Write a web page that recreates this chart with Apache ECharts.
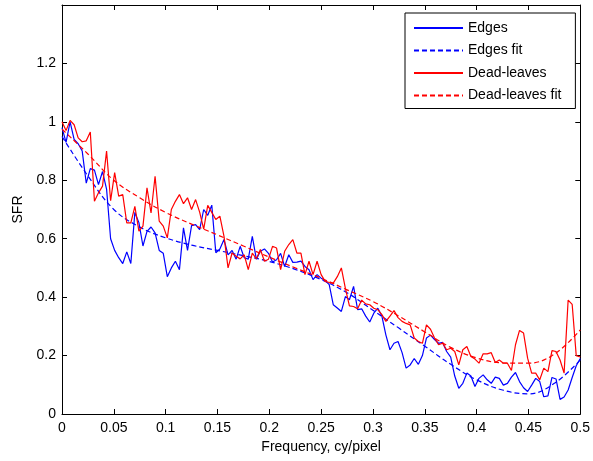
<!DOCTYPE html>
<html>
<head>
<meta charset="utf-8">
<script src="https://cdn.jsdelivr.net/npm/echarts@6/dist/echarts.min.js"></script>
<style>
  html, body { margin: 0; padding: 0; background: #ffffff; }
  #chart { width: 593px; height: 461px; }
</style>
</head>
<body>
<div id="chart"></div>
<script>
// Spatial frequency samples (cy/pixel)
const freq = [
  0, 0.0039, 0.0078, 0.0117, 0.0156, 0.0195, 0.0234, 0.0273, 0.0313, 0.0352,
  0.0391, 0.0430, 0.0469, 0.0508, 0.0547, 0.0586, 0.0625, 0.0664, 0.0703, 0.0742,
  0.0781, 0.0820, 0.0859, 0.0898, 0.0938, 0.0977, 0.1016, 0.1055, 0.1094, 0.1133,
  0.1172, 0.1211, 0.125, 0.1289, 0.1328, 0.1367, 0.1406, 0.1445, 0.1484, 0.1523,
  0.1563, 0.1602, 0.1641, 0.1680, 0.1719, 0.1758, 0.1797, 0.1836, 0.1875, 0.1914,
  0.1953, 0.1992, 0.2031, 0.2070, 0.2109, 0.2148, 0.2188, 0.2227, 0.2266, 0.2305,
  0.2344, 0.2383, 0.2422, 0.2461, 0.25, 0.2539, 0.2578, 0.2617, 0.2656, 0.2695,
  0.2734, 0.2773, 0.2813, 0.2852, 0.2891, 0.2930, 0.2969, 0.3008, 0.3047, 0.3086,
  0.3125, 0.3164, 0.3203, 0.3242, 0.3281, 0.3320, 0.3359, 0.3398, 0.3438, 0.3477,
  0.3516, 0.3555, 0.3594, 0.3633, 0.3672, 0.3711, 0.375, 0.3789, 0.3828, 0.3867,
  0.3906, 0.3945, 0.3984, 0.4023, 0.4063, 0.4102, 0.4141, 0.4180, 0.4219, 0.4258,
  0.4297, 0.4336, 0.4375, 0.4414, 0.4453, 0.4492, 0.4531, 0.4570, 0.4609, 0.4648,
  0.4688, 0.4727, 0.4766, 0.4805, 0.4844, 0.4883, 0.4922, 0.4961, 0.5
];

// Measured SFR from slanted edges
const edges = [
  0.98, 0.93, 1.0, 0.94, 0.925, 0.90, 0.79, 0.84, 0.835, 0.785,
  0.83, 0.77, 0.60, 0.56, 0.535, 0.515, 0.555, 0.515, 0.69, 0.655,
  0.575, 0.625, 0.64, 0.62, 0.56, 0.55, 0.47, 0.50, 0.523, 0.494,
  0.637, 0.56, 0.645, 0.648, 0.631, 0.70, 0.68, 0.715, 0.552, 0.565,
  0.597, 0.545, 0.56, 0.53, 0.574, 0.535, 0.53, 0.608, 0.53, 0.557,
  0.565, 0.55, 0.52, 0.528, 0.55, 0.505, 0.545, 0.519, 0.52, 0.523,
  0.505, 0.494, 0.46, 0.477, 0.465, 0.457, 0.443, 0.374, 0.363, 0.351,
  0.402, 0.391, 0.437, 0.357, 0.36, 0.335, 0.315, 0.345, 0.362, 0.335,
  0.27, 0.22, 0.242, 0.248, 0.21, 0.157, 0.168, 0.19, 0.17, 0.20,
  0.26, 0.27, 0.255, 0.242, 0.245, 0.214, 0.195, 0.13, 0.088, 0.105,
  0.14, 0.13, 0.094, 0.122, 0.134, 0.117, 0.105, 0.126, 0.122, 0.099,
  0.105, 0.126, 0.142, 0.111, 0.09, 0.077, 0.099, 0.122, 0.111, 0.059,
  0.062, 0.125, 0.12, 0.05, 0.058, 0.082, 0.125, 0.165, 0.19
];

// Measured SFR from the dead-leaves target
const deadLeaves = [
  1.0, 0.97, 1.005, 0.99, 0.945, 0.932, 0.935, 0.965, 0.728, 0.757,
  0.78, 0.90, 0.73, 0.826, 0.746, 0.751, 0.654, 0.654, 0.711, 0.626,
  0.643, 0.774, 0.688, 0.814, 0.66, 0.643, 0.603, 0.70, 0.728, 0.751,
  0.72, 0.74, 0.70, 0.734, 0.691, 0.633, 0.714, 0.69, 0.666, 0.677,
  0.608, 0.50, 0.551, 0.54, 0.531, 0.545, 0.494, 0.551, 0.531, 0.563,
  0.523, 0.53, 0.574, 0.568, 0.494, 0.557, 0.58, 0.597, 0.551, 0.551,
  0.477, 0.523, 0.477, 0.523, 0.477, 0.454, 0.45, 0.448, 0.47, 0.50,
  0.43, 0.37, 0.368, 0.36, 0.39, 0.377, 0.374, 0.362, 0.357, 0.34,
  0.317, 0.335, 0.354, 0.33, 0.317, 0.31, 0.305, 0.26, 0.248, 0.242,
  0.305, 0.29, 0.26, 0.237, 0.242, 0.22, 0.225, 0.214, 0.168, 0.22,
  0.231, 0.197, 0.188, 0.174, 0.206, 0.206, 0.21, 0.176, 0.185, 0.174,
  0.174, 0.149, 0.237, 0.286, 0.277, 0.191, 0.14, 0.14, 0.117, 0.157,
  0.145, 0.217, 0.214, 0.185, 0.14, 0.39, 0.375, 0.2, 0.195
];

// Fitted model curves, sampled coarsely
const fitFreq = [
  0, 0.025, 0.05, 0.075, 0.1, 0.125, 0.15, 0.175, 0.2, 0.225,
  0.25, 0.275, 0.3, 0.325, 0.35, 0.375, 0.4, 0.425, 0.45, 0.475, 0.5
];
const edgesFit = [
  0.95, 0.815, 0.70, 0.64, 0.603, 0.578, 0.56, 0.542, 0.522, 0.495,
  0.46, 0.415, 0.355, 0.294, 0.232, 0.17, 0.117, 0.082, 0.069, 0.105, 0.185
];
const deadLeavesFit = [
  0.975, 0.89, 0.80, 0.74, 0.69, 0.65, 0.613, 0.575, 0.537, 0.50,
  0.465, 0.425, 0.385, 0.335, 0.281, 0.228, 0.192, 0.175, 0.174, 0.205, 0.288
];

const xTicks = { min: 0, max: 0.5, interval: 0.05 };
const yTicks = { min: 0, max: 1.4, interval: 0.2 };

const FONT = 'Liberation Sans, Arial, Helvetica, sans-serif';
const BLUE = '#0000ff';
const RED = '#ff0000';

function pairs(xs, ys) {
  return xs.map((x, i) => [x, ys[i]]);
}

const tickStyle = { show: true, inside: true, length: 5, lineStyle: { color: '#000', width: 1 } };
const lineAxis = { show: true, onZero: false, lineStyle: { color: '#000', width: 1 } };

const chart = echarts.init(document.getElementById('chart'), null, { renderer: 'canvas' });

chart.setOption({
  backgroundColor: '#ffffff',
  animation: false,
  grid: { left: 62, right: 11, top: 5, bottom: 47, containLabel: false },
  xAxis: [
    {
      type: 'value', position: 'bottom',
      min: xTicks.min, max: xTicks.max, interval: xTicks.interval,
      axisLine: lineAxis, axisTick: tickStyle, splitLine: { show: false },
      axisLabel: { color: '#000', fontSize: 14, fontFamily: FONT, margin: 7 },
      name: 'Frequency, cy/pixel', nameLocation: 'middle', nameGap: 23,
      nameTextStyle: { color: '#000', fontSize: 14, fontFamily: FONT }
    },
    {
      type: 'value', position: 'top',
      min: xTicks.min, max: xTicks.max, interval: xTicks.interval,
      axisLine: lineAxis, axisTick: tickStyle, splitLine: { show: false },
      axisLabel: { show: false }
    }
  ],
  yAxis: [
    {
      type: 'value', position: 'left',
      min: yTicks.min, max: yTicks.max, interval: yTicks.interval,
      axisLine: lineAxis, axisTick: tickStyle, splitLine: { show: false },
      axisLabel: { color: '#000', fontSize: 14, fontFamily: FONT, margin: 6, showMaxLabel: false },
      name: 'SFR', nameLocation: 'middle', nameGap: 37, nameRotate: 90,
      nameTextStyle: { color: '#000', fontSize: 14, fontFamily: FONT }
    },
    {
      type: 'value', position: 'right',
      min: yTicks.min, max: yTicks.max, interval: yTicks.interval,
      axisLine: lineAxis, axisTick: tickStyle, splitLine: { show: false },
      axisLabel: { show: false }
    }
  ],
  legend: {
    orient: 'vertical',
    left: 405, top: 13,
    padding: [8, 14, 6, 8],
    itemWidth: 49, itemHeight: 14, itemGap: 8.5,
    backgroundColor: '#ffffff',
    borderColor: '#000', borderWidth: 1, borderRadius: 0,
    itemStyle: { opacity: 0 },
    textStyle: { color: '#000', fontSize: 14, fontFamily: FONT },
    data: ['Edges', 'Edges fit', 'Dead-leaves', 'Dead-leaves fit']
  },
  series: [
    {
      name: 'Edges', type: 'line', data: pairs(freq, edges),
      symbol: 'none', smooth: false,
      lineStyle: { color: BLUE, width: 1.2 }, itemStyle: { color: BLUE }
    },
    {
      name: 'Edges fit', type: 'line', data: pairs(fitFreq, edgesFit),
      symbol: 'none', smooth: 0.4,
      lineStyle: { color: BLUE, width: 1.2, type: [5, 3] }, itemStyle: { color: BLUE }
    },
    {
      name: 'Dead-leaves', type: 'line', data: pairs(freq, deadLeaves),
      symbol: 'none', smooth: false,
      lineStyle: { color: RED, width: 1.2 }, itemStyle: { color: RED }
    },
    {
      name: 'Dead-leaves fit', type: 'line', data: pairs(fitFreq, deadLeavesFit),
      symbol: 'none', smooth: 0.4,
      lineStyle: { color: RED, width: 1.2, type: [5, 3] }, itemStyle: { color: RED }
    }
  ]
});
</script>
</body>
</html>
